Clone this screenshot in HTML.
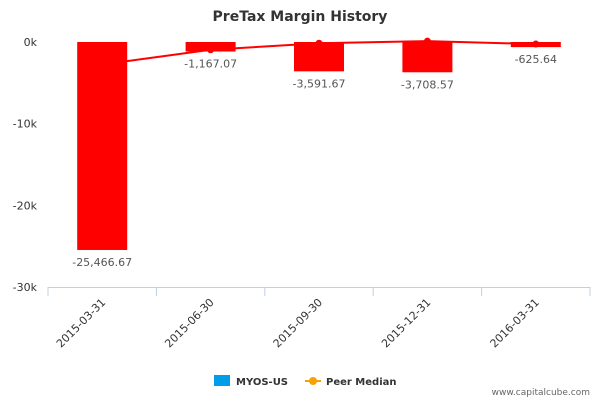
<!DOCTYPE html>
<html><head><meta charset="utf-8"><style>
body{margin:0;background:#fff;font-family:"Liberation Sans","DejaVu Sans",sans-serif}
svg text{font-family:"DejaVu Sans","Liberation Sans",sans-serif}
</style></head><body>
<svg id="chart" width="600" height="400" viewBox="0 0 600 400">
<text x="300" y="21" text-anchor="middle" font-size="14" font-weight="bold" fill="#333">PreTax Margin History</text>
<g id="axes"></g><g id="bars"></g><g id="line"></g><g id="labels"></g>
<g>
<rect x="214" y="375" width="16" height="11" fill="#009ee8"/>
<text x="236" y="385" font-size="10" font-weight="bold" fill="#333">MYOS-US</text>
<line x1="305" y1="381" x2="321" y2="381" stroke="#f6a200" stroke-width="2"/>
<circle cx="313" cy="381" r="4" fill="#f6a200"/>
<text x="326" y="385" font-size="10" font-weight="bold" fill="#333">Peer Median</text>
</g>
<text x="590" y="395" text-anchor="end" font-size="9" fill="#666">www.capitalcube.com</text>
</svg>
<script>
const categories=["2015-03-31","2015-06-30","2015-09-30","2015-12-31","2016-03-31"];
const barValues=[-25466.67,-1167.07,-3591.67,-3708.57,-625.64];
const barLabels=["-25,466.67","-1,167.07","-3,591.67","-3,708.57","-625.64"];
const peerValues=[-2750,-950,-150,100,-250];
const yTicks=[0,-10000,-20000,-30000];
const yTickLabels=["0k","-10k","-20k","-30k"];
const NS="http://www.w3.org/2000/svg";
const x0=48,x1=590,yTop=42,yBot=287;
const bw=(x1-x0)/categories.length;
function xc(i){return x0+bw*(i+0.5);}
function y(v){return yTop+(0-v)/30000*(yBot-yTop);}
function mk(t,a,p,txt){const e=document.createElementNS(NS,t);for(const k in a)e.setAttribute(k,a[k]);if(txt!=null)e.textContent=txt;p.appendChild(e);return e;}
const ax=document.getElementById('axes');
yTicks.forEach((v,i)=>{
 const t=mk('text',{x:37,y:y(v)+4,'text-anchor':'end','font-size':11,fill:'#333'},ax,yTickLabels[i]);
 
 
});
const base=mk('line',{x1:x0,y1:yBot+0.5,x2:x1,y2:yBot+0.5,stroke:'#c0d0e0'},ax);


for(let i=0;i<=categories.length;i++){
 const tk=mk('line',{x1:x0+bw*i,y1:yBot,x2:x0+bw*i,y2:yBot+9,stroke:'#c0d0e0'},ax);
 
 
}
categories.forEach((c,i)=>{
 const cx=xc(i);
 const t=mk('text',{x:cx+4,y:yBot+16,'text-anchor':'end','font-size':11,fill:'#333',transform:`rotate(-45 ${cx+4} ${yBot+16})`},ax,c);
 
 
});
const bg=document.getElementById('bars'),lg=document.getElementById('labels');
barValues.forEach((v,i)=>{
 const r=mk('rect',{x:xc(i)-25,y:y(0),width:50,height:y(v)-y(0),fill:'#ff0000'},bg);
 
 
 const t=mk('text',{x:xc(i),y:y(v)+16,'text-anchor':'middle','font-size':11,fill:'#555'},lg,barLabels[i]);
 
 
});
const ln=document.getElementById('line');
const pts=peerValues.map((v,i)=>xc(i)+','+y(v)).join(' ');
const pl=mk('polyline',{points:pts,fill:'none',stroke:'#ff0000','stroke-width':2},ln);


peerValues.forEach((v,i)=>{
 const c=mk('circle',{cx:xc(i),cy:y(v),r:3.5,fill:'#ff0000'},ln);
 
 
});
// redraw bars over first point region (bar covers line in reference)
bg.parentNode.insertBefore(ln,bg);
</script>
</body></html>
